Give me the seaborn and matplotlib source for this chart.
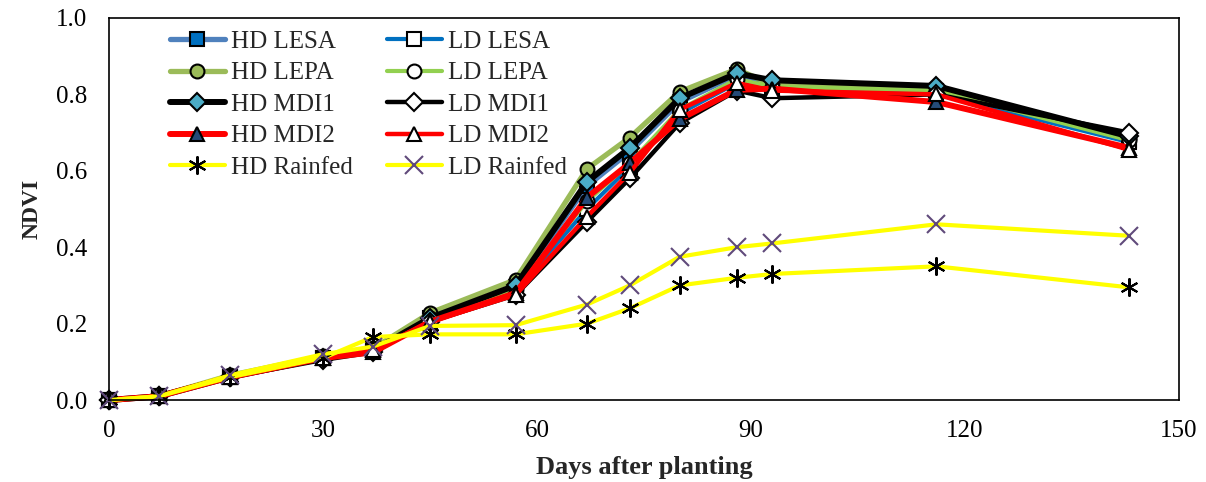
import matplotlib
matplotlib.use("Agg")
import matplotlib.pyplot as plt
import seaborn as sns
import pandas as pd

days = [0, 7, 17, 30, 37, 45, 57, 67, 73, 80, 88, 93, 116, 143]

hd_lesa = [0.0, 0.01, 0.06, 0.11, 0.13, 0.215, 0.295, 0.56, 0.65, 0.78, 0.85, 0.825, 0.81, 0.68]
ld_lesa = [0.0, 0.01, 0.06, 0.11, 0.13, 0.21, 0.285, 0.50, 0.61, 0.75, 0.83, 0.815, 0.80, 0.675]
hd_lepa = [0.0, 0.01, 0.065, 0.115, 0.135, 0.228, 0.315, 0.605, 0.687, 0.807, 0.866, 0.825, 0.815, 0.685]
ld_lepa = [0.0, 0.01, 0.06, 0.11, 0.13, 0.215, 0.29, 0.52, 0.62, 0.76, 0.84, 0.82, 0.81, 0.68]
hd_mdi1 = [0.0, 0.01, 0.06, 0.11, 0.13, 0.215, 0.30, 0.571, 0.66, 0.79, 0.855, 0.837, 0.822, 0.69]
ld_mdi1 = [0.0, 0.01, 0.06, 0.105, 0.125, 0.205, 0.275, 0.467, 0.58, 0.725, 0.81, 0.79, 0.80, 0.70]
hd_mdi2 = [0.0, 0.01, 0.06, 0.11, 0.125, 0.205, 0.28, 0.53, 0.62, 0.735, 0.812, 0.815, 0.78, 0.66]
ld_mdi2 = [0.0, 0.01, 0.06, 0.11, 0.13, 0.205, 0.275, 0.48, 0.595, 0.76, 0.83, 0.81, 0.80, 0.655]
hd_rainfed = [0.0, 0.01, 0.06, 0.11, 0.165, 0.172, 0.172, 0.20, 0.24, 0.30, 0.32, 0.33, 0.35, 0.295]
ld_rainfed = [0.0, 0.01, 0.065, 0.12, 0.14, 0.194, 0.196, 0.25, 0.30, 0.375, 0.40, 0.41, 0.46, 0.43]

x_ticks = [0, 30, 60, 90, 120, 150]
y_ticks = [0.0, 0.2, 0.4, 0.6, 0.8, 1.0]

series = [
    ("HD LESA", hd_lesa, "#4F81BD", "s", "#0070C0", 3.8),
    ("LD LESA", ld_lesa, "#0070C0", "s", "white", 3.0),
    ("HD LEPA", hd_lepa, "#9BBB59", "o", "#9BBB59", 3.8),
    ("LD LEPA", ld_lepa, "#92D050", "o", "white", 3.0),
    ("HD MDI1", hd_mdi1, "black", "D", "#4BACC6", 4.3),
    ("LD MDI1", ld_mdi1, "black", "D", "white", 3.2),
    ("HD MDI2", hd_mdi2, "#FF0000", "^", "#254B78", 4.3),
    ("LD MDI2", ld_mdi2, "#FF0000", "^", "white", 3.2),
    ("HD Rainfed", hd_rainfed, "#FFFF00", (6, 2, 0), "black", 3.0),
    ("LD Rainfed", ld_rainfed, "#FFFF00", "x", "#604A7B", 3.0),
]

sns.set_theme(style="white")
plt.rcParams["font.family"] = ["Liberation Serif", "DejaVu Serif"]
plt.rcParams["font.size"] = 18

fig = plt.figure(figsize=(12.06, 4.82), dpi=100)
ax = fig.add_axes([0.0904, 0.170, 0.8872, 0.7927])

for label, vals, lc, mk, mfc, lw in series:
    df = pd.DataFrame({"Days": days, "NDVI": vals})
    if mk == "x" or isinstance(mk, tuple):
        mec = mfc
        mew = 1.5
        ms = 13
    else:
        mec = "black"
        mew = 1.5
        ms = 10 if mk != "D" else 9.5
    sns.lineplot(data=df, x="Days", y="NDVI", ax=ax, color=lc, linewidth=lw,
                 marker=mk, markersize=ms, markerfacecolor=mfc,
                 markeredgecolor=mec, markeredgewidth=mew, label=label,
                 clip_on=False, sort=False)

h, l = ax.get_legend_handles_labels()
order = [0, 2, 4, 6, 8, 1, 3, 5, 7, 9]
ax.legend([h[i] for i in order], [l[i] for i in order], ncol=2,
          loc="upper left", bbox_to_anchor=(0.045, 1.0), frameon=False,
          fontsize=18, handlelength=2.2, handletextpad=0.25,
          labelspacing=0.36, columnspacing=1.35, borderaxespad=0.1)

ax.set_xlim(0, 150)
ax.set_ylim(0, 1.0)
ax.set_xticks(x_ticks)
ax.set_yticks(y_ticks)
ax.set_yticklabels([f"{v:.1f}" for v in y_ticks])
ax.tick_params(axis="both", direction="inout", length=11, width=1.2,
               colors="black", labelsize=18)
ax.tick_params(axis="y", pad=10)
ax.tick_params(axis="x", pad=9)
for s in ax.spines.values():
    s.set_color("black")
    s.set_linewidth(1.2)
ax.set_xlabel("Days after planting", fontsize=19, fontweight="bold", labelpad=10)
ax.set_ylabel("NDVI", fontsize=17, fontweight="bold", labelpad=10)

fig.savefig("out.png", dpi=100)
